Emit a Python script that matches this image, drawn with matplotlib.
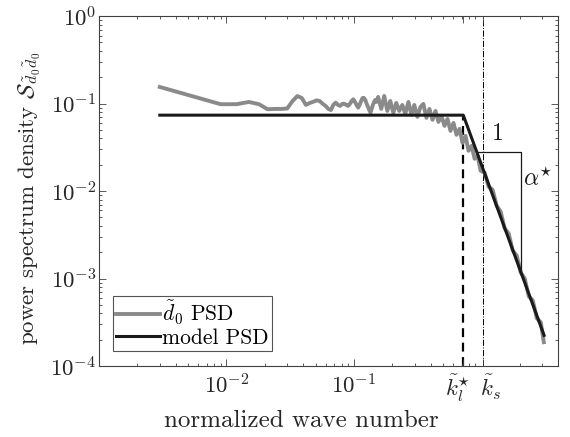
import numpy as np
import matplotlib
matplotlib.use("Agg")
import matplotlib.pyplot as plt
import matplotlib.transforms as mtransforms
from matplotlib.ticker import LogLocator, NullFormatter

plt.rcParams['font.family'] = 'serif'
plt.rcParams['font.serif'] = ['cmr10']
plt.rcParams['mathtext.fontset'] = 'cm'
plt.rcParams['axes.formatter.use_mathtext'] = True

k_psd = [0.003, 0.009, 0.012, 0.015, 0.018, 0.021, 0.024, 0.027, 0.030, 0.033,
         0.036, 0.039, 0.042, 0.045, 0.048, 0.051, 0.054, 0.057, 0.060, 0.063,
         0.066, 0.069, 0.072, 0.075, 0.078, 0.081, 0.084, 0.087, 0.090, 0.093,
         0.096, 0.099, 0.102, 0.105, 0.108, 0.111, 0.114, 0.117, 0.120, 0.123,
         0.126, 0.129, 0.132, 0.135, 0.138, 0.141, 0.144, 0.147, 0.150,
         0.155, 0.164, 0.173, 0.183, 0.193, 0.204, 0.215, 0.227, 0.240, 0.253,
         0.268, 0.283, 0.298, 0.315, 0.333, 0.351, 0.371, 0.392, 0.414, 0.437,
         0.461, 0.487, 0.514, 0.543, 0.573, 0.605, 0.639, 0.675, 0.712, 0.752,
         0.794, 0.839, 0.886, 0.935, 0.987, 1.062, 1.141, 1.227, 1.320, 1.419,
         1.526, 1.641, 1.764, 1.897, 2.039, 2.193, 2.357, 2.535, 2.725, 2.930,
         3.094]
s_psd = [0.155, 0.0985, 0.0985, 0.1045, 0.0985, 0.0863, 0.087, 0.087, 0.088, 0.107,
         0.122, 0.116, 0.0967, 0.1017, 0.105, 0.109, 0.107, 0.0994, 0.0941, 0.087,
         0.0845, 0.0967, 0.1026, 0.0967, 0.0941, 0.0994, 0.100, 0.0967, 0.0941, 0.0994,
         0.107, 0.112, 0.1045, 0.0967, 0.090, 0.0967, 0.107, 0.116, 0.116, 0.110,
         0.0994, 0.0921, 0.0845, 0.0792, 0.087, 0.0967, 0.1045, 0.110, 0.1045,
         0.1193, 0.0870, 0.1224, 0.0825, 0.1073, 0.0783, 0.1019, 0.0825, 0.0966, 0.0763,
         0.1045, 0.0743, 0.0966, 0.0705, 0.0917, 0.0992, 0.0687, 0.0870, 0.0652, 0.0825,
         0.0618, 0.0724, 0.0557, 0.0669, 0.0488, 0.0602, 0.0440, 0.0515, 0.0356, 0.0428,
         0.0289, 0.0329, 0.0234, 0.0253, 0.0171, 0.0162, 0.0112, 0.01037, 0.00682, 0.00582,
         0.00373, 0.00327, 0.00209, 0.00183, 0.00117, 0.00100, 0.000625, 0.000563, 0.000351, 0.000316,
         0.000187]

# model PSD
k_model = [0.003, 0.722, 3.11]
s_model = [0.0738, 0.0738, 0.000224]

k_l = 0.722
k_s = 1.04

# slope triangle
k_tri = [0.93, 2.04, 2.04]
s_tri = [0.0281, 0.0281, 0.001215]

fig = plt.figure(figsize=(5.7, 4.37), dpi=100)
ax = fig.add_axes([0.1737, 0.1625, 0.8053, 0.8005])

ax.plot([k_l, k_l], [1e-4, s_model[1]], color='black', lw=1.6, ls=(0, (4, 2.5)), zorder=1)
ax.plot([k_s, k_s], [1e-4, 1e0], color='black', lw=0.7, ls='-.', zorder=1)
ax.plot(k_psd, s_psd, color='#8a8a8a', lw=2.8, label=r'$\tilde{d}_0$ PSD', zorder=2)
ax.plot(k_model, s_model, color='#1a1a1a', lw=2.2, label='model PSD', zorder=3)
ax.plot(k_tri, s_tri, color='#1a1a1a', lw=0.9, zorder=3)

ax.text(1.35, 0.034, '1', fontsize=17, ha='center', va='bottom', color='#1a1a1a')
ax.text(2.13, 0.0135, r'$\alpha^{\star}$', fontsize=17, ha='left', va='center', color='#1a1a1a')

ax.set_xscale('log')
ax.set_yscale('log')
ax.set_xlim(1e-3, 4.0)
ax.set_ylim(1e-4, 1e0)

ax.set_xticks([1e-2, 1e-1, k_l, k_s])
ax.set_xticklabels([r'$10^{-2}$', r'$10^{-1}$', r'$\tilde{k}_l^{\star}$', r'$\tilde{k}_s$'])
ax.xaxis.set_minor_locator(LogLocator(base=10, subs=np.arange(2, 10)))
ax.xaxis.set_minor_formatter(NullFormatter())
ax.set_yticks([1e-4, 1e-3, 1e-2, 1e-1, 1e0])
ax.yaxis.set_minor_locator(LogLocator(base=10, subs=np.arange(2, 10)))
ax.yaxis.set_minor_formatter(NullFormatter())

ax.tick_params(which='both', direction='in', top=True, right=True, colors='#404040',
               labelcolor='#262626', labelsize=16.5, width=0.6)
ax.tick_params(which='major', length=5)
ax.tick_params(axis='x', which='major', pad=5)
ax.tick_params(axis='y', which='major', pad=2)
ax.tick_params(which='minor', length=2.5)
for sp in ax.spines.values():
    sp.set_color('#404040')
    sp.set_linewidth(0.8)

# pull the two close tick labels apart, as in the original
xlabs = ax.get_xticklabels()
xlabs[2].set_transform(xlabs[2].get_transform() +
                       mtransforms.ScaledTranslation(-4 / 72, 0, fig.dpi_scale_trans))
xlabs[3].set_transform(xlabs[3].get_transform() +
                       mtransforms.ScaledTranslation(5 / 72, 0, fig.dpi_scale_trans))

ax.set_xlabel('normalized wave number', fontsize=18, color='#262626')
ax.xaxis.set_label_coords(0.44, -0.125)
ax.set_ylabel(r'power spectrum density $\mathcal{S}_{\tilde{d}_0\tilde{d}_0}$',
              fontsize=16.5, color='#262626')
ax.yaxis.set_label_coords(-0.123, 0.48)

leg = ax.legend(loc='lower left', fontsize=15.5, frameon=True, fancybox=False,
                edgecolor='#555555', framealpha=1, handlelength=2.0,
                handletextpad=0.1, borderpad=0.15, labelspacing=0.05,
                borderaxespad=0, bbox_to_anchor=(0.031, 0.043))
leg.get_frame().set_linewidth(0.8)

fig.savefig('out.png', dpi=100)
